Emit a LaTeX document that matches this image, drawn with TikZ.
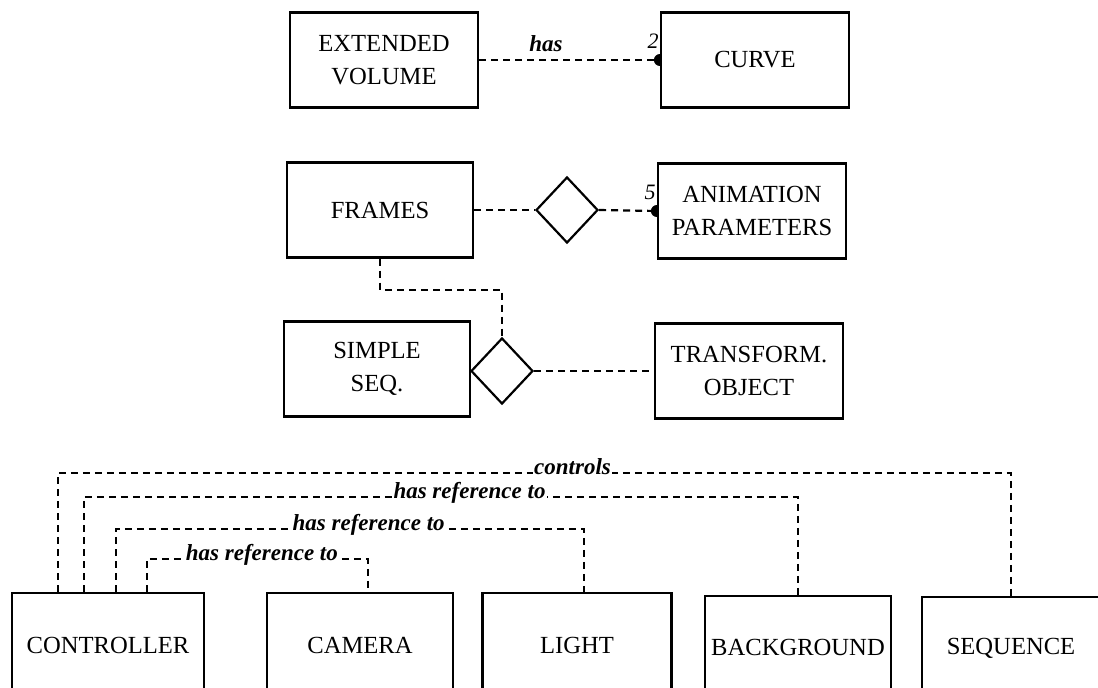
\documentclass[tikz,border=0pt]{standalone}
\usepackage{fontspec}
\setmainfont{Liberation Serif}
\usetikzlibrary{shapes.geometric,positioning}
\tikzset{
  ent/.style={draw,line width=1.1pt,align=center,inner sep=0pt,
    font=\fontsize{12.3}{16.5}\selectfont,minimum width=94pt,minimum height=47.5pt},
  rel/.style={draw,shape=diamond,line width=1.1pt,inner sep=0pt,
    minimum width=31pt,minimum height=33pt},
  link/.style={line width=1.1pt,dash pattern=on 3.5pt off 2.5pt},
  lbl/.style={font=\fontsize{11.5}{13}\selectfont\bfseries\itshape,inner sep=0.5pt},
  card/.style={font=\fontsize{11}{12}\selectfont\itshape,inner sep=0.5pt}
}
\begin{document}
\begin{tikzpicture}[x=0.5pt,y=-0.5pt]
\useasboundingbox (0,0) rectangle (1098,687);
\clip (0,0) rectangle (1098,687);
% upper part
\node[ent] (ev) at (384,60) {EXTENDED\\VOLUME};
\node[ent] (curve) at (755,60) {CURVE};
\node[ent,minimum width=93pt] (frames) at (380,210) {FRAMES};
\node[rel] (r1) at (567,210) {};
\node[ent] (anim) at (752,211) {ANIMATION\\PARAMETERS};
\node[ent,minimum width=93pt] (simple) at (377,369) {SIMPLE\\SEQ.};
\node[rel] (r2) at (502,371) {};
\node[ent] (transf) at (749,371) {TRANSFORM.\\OBJECT};
\draw[link] (ev.east) -- node[lbl,pos=0.37,above=3pt]{has} (curve.west);
\fill ([yshift=3pt]curve.west) arc[start angle=90,end angle=270,radius=3pt] -- cycle;
\node[card,above left=5pt and 0pt] (n2) at (curve.west) {2};
\draw[link] (frames.east) -- (r1.west);
\draw[link] (r1.east) -- (anim.west);
\fill ([yshift=3pt]anim.west) arc[start angle=90,end angle=270,radius=3pt] -- cycle;
\node[card,above left=5pt and 0pt] (n5) at (anim.west) {5};
\draw[link] (frames.south) -- ++(0,31) -| (r2.north);
\draw[link] (r2.east) -- (transf.west);
% lower row
\node[ent,minimum width=96pt,minimum height=52pt] (ctrl) at (108,645) {CONTROLLER};
\node[ent,minimum width=93pt,minimum height=52pt] (cam) at (360,645) {CAMERA};
\node[ent,minimum width=94.5pt,minimum height=52pt] (light) at (577,645) {LIGHT};
\node[ent,minimum width=93pt,minimum height=51pt] (bg) at (798,647) {BACKGROUND};
\node[ent,minimum width=89pt,minimum height=51pt] (seq) at (1011,648) {SEQUENCE};
\draw[link] ([xshift=23.5pt]ctrl.north west) -- ++(0,-119)
  -| node[lbl,pos=0.27,anchor=base,fill=white,yshift=-1pt]{controls} (seq.north);
\draw[link] ([xshift=36.5pt]ctrl.north west) -- ++(0,-95)
  -| node[lbl,pos=0.27,anchor=base,fill=white,yshift=-1pt]{has reference to} (bg.north);
\draw[link] ([xshift=52.5pt]ctrl.north west) -- ++(0,-63)
  -| node[lbl,pos=0.27,anchor=base,fill=white,yshift=-1pt]{has reference to} ([xshift=3.5pt]light.north);
\draw[link] ([xshift=68pt]ctrl.north west) -- ++(0,-33)
  -| node[lbl,pos=0.26,anchor=base,fill=white,yshift=-1pt]{has reference to} ([xshift=4pt]cam.north);
\end{tikzpicture}
\end{document}
